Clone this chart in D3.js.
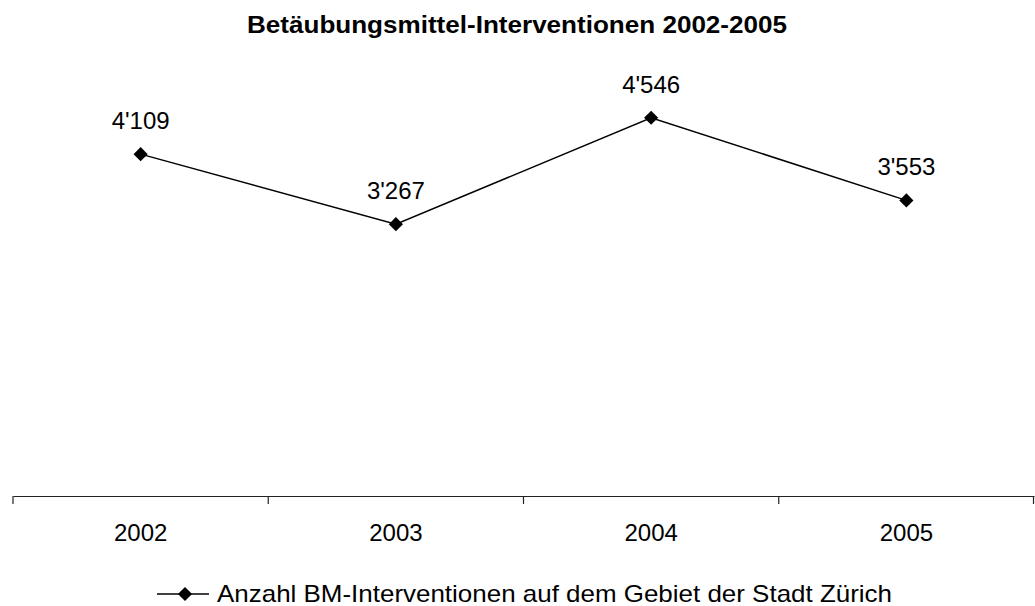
<!DOCTYPE html>
<html>
<head>
<meta charset="utf-8">
<script src="https://cdn.jsdelivr.net/npm/d3@7"></script>
<style>
  body { margin: 0; background: #fff; }
  text { font-family: "Liberation Sans", Arial, sans-serif; fill: #000; }
</style>
</head>
<body>
<svg id="chart" width="1035" height="606"></svg>
<script>
let years = ["2002", "2003", "2004", "2005"]
let interventions = [4109, 3267, 4546, 3553]
let yDomain = [0, 5000]
let titleText = "Betäubungsmittel-Interventionen 2002-2005"
let seriesName = "Anzahl BM-Interventionen auf dem Gebiet der Stadt Zürich"

//======================= PROCESS DATA =========================
let data = years.map(function(y, i) { return {year: y, value: interventions[i]} })

//======================= SVG SETUP ============================
let svg = d3.select("#chart"),
    margin = {top: 80, right: 1, bottom: 110, left: 13},
    width = +svg.attr("width") - margin.left - margin.right,
    height = +svg.attr("height") - margin.top - margin.bottom,
    g = svg.append("g").attr("transform", "translate(" + margin.left + "," + margin.top + ")")

let fmt = d3.formatLocale({decimal: ".", thousands: "'", grouping: [3], currency: ["", ""]}).format(",")

let x = d3.scaleBand().domain(years).range([0, width]).padding(0),
    y = d3.scaleLinear().domain(yDomain).range([height, 0])

//======================= TITLE ================================
svg.append("text")
  .attr("x", 517)
  .attr("y", 33)
  .attr("text-anchor", "middle")
  .attr("textLength", 540)
  .attr("lengthAdjust", "spacingAndGlyphs")
  .style("font-size", "24px")
  .style("font-weight", "bold")
  .text(titleText)

//======================= AXIS =================================
let xAxis = g.append("g")
  .attr("transform", "translate(0," + height + ")")
  .call(d3.axisBottom(x).tickSize(0).tickPadding(28))

xAxis.select(".domain").attr("stroke", "#222").attr("stroke-width", 1.2)
xAxis.selectAll(".tick text")
  .style("font-size", "24px")
  .style("font-family", "'Liberation Sans', Arial, sans-serif")
  .attr("fill", "#000")

// tick marks between categories (Excel style)
let bounds = years.map(function(d) { return x(d) }).concat([x(years[years.length - 1]) + x.bandwidth()])
xAxis.selectAll(".bound")
  .data(bounds)
  .enter().append("line")
  .attr("class", "bound")
  .attr("x1", function(d) { return Math.min(d, width - 0.5) })
  .attr("x2", function(d) { return Math.min(d, width - 0.5) })
  .attr("y1", 0)
  .attr("y2", 8)
  .attr("stroke", "#222")
  .attr("stroke-width", 1.2)

//======================= LINE =================================
let line = d3.line()
  .x(function(d) { return x(d.year) + x.bandwidth() / 2 })
  .y(function(d) { return y(d.value) })

g.append("path")
  .datum(data)
  .attr("fill", "none")
  .attr("stroke", "#000")
  .attr("stroke-width", 1.5)
  .attr("d", line)

let diamond = d3.symbol().type(d3.symbolSquare).size(100)

g.selectAll(".marker")
  .data(data)
  .enter().append("path")
  .attr("class", "marker")
  .attr("d", diamond)
  .attr("fill", "#000")
  .attr("transform", function(d) {
    return "translate(" + (x(d.year) + x.bandwidth() / 2) + "," + y(d.value) + ") rotate(45)"
  })

g.selectAll(".label")
  .data(data)
  .enter().append("text")
  .attr("class", "label")
  .attr("x", function(d) { return x(d.year) + x.bandwidth() / 2 })
  .attr("y", function(d) { return y(d.value) - 25 })
  .attr("text-anchor", "middle")
  .style("font-size", "24px")
  .text(function(d) { return fmt(d.value) })

//======================= LEGEND ===============================
let legend = svg.append("g").attr("transform", "translate(157,594)")

legend.append("line")
  .attr("x1", 0).attr("x2", 52)
  .attr("y1", 0).attr("y2", 0)
  .attr("stroke", "#000")
  .attr("stroke-width", 1.5)

legend.append("path")
  .attr("d", diamond)
  .attr("fill", "#000")
  .attr("transform", "translate(28,0) rotate(45)")

legend.append("text")
  .attr("x", 60)
  .attr("y", 8)
  .attr("textLength", 675)
  .attr("lengthAdjust", "spacingAndGlyphs")
  .style("font-size", "24px")
  .text(seriesName)
</script>
</body>
</html>
